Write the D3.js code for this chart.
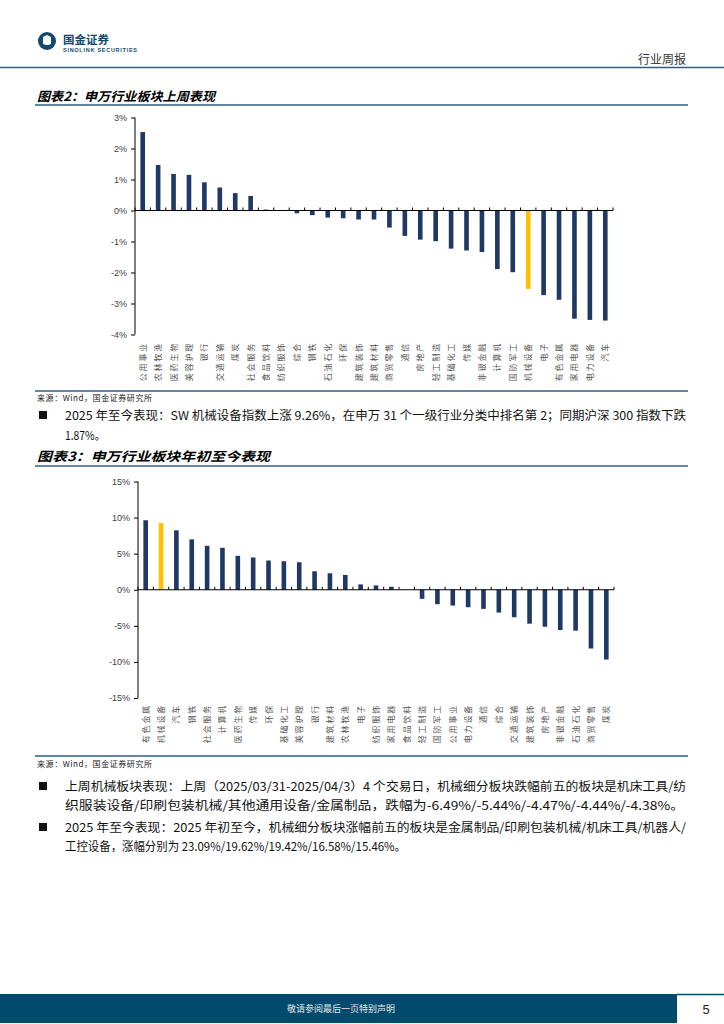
<!DOCTYPE html>
<html><head><meta charset="utf-8">
<script src="https://cdn.jsdelivr.net/npm/d3@7/dist/d3.min.js"></script>
<style>
html,body{margin:0;padding:0;background:#fff;}
svg{display:block;}
</style></head>
<body>
<svg id="page" width="724" height="1024"></svg>
<script>
// ---------- DATA ----------
const weekCategories = ["公用事业","农林牧渔","医药生物","美容护理","银行","交通运输","煤炭","社会服务","食品饮料","纺织服饰","综合","钢铁","石油石化","环保","建筑装饰","建筑材料","商贸零售","通信","房地产","轻工制造","基础化工","传媒","非银金融","计算机","国防军工","机械设备","电子","有色金属","家用电器","电力设备","汽车"];
const weekValues = [2.53,1.47,1.18,1.15,0.91,0.74,0.56,0.47,0.03,0.01,-0.09,-0.15,-0.23,-0.25,-0.29,-0.29,-0.55,-0.82,-0.94,-0.99,-1.23,-1.29,-1.34,-1.89,-1.99,-2.53,-2.73,-2.88,-3.49,-3.53,-3.55];
const weekTicks = [3,2,1,0,-1,-2,-3,-4];

const ytdCategories = ["有色金属","机械设备","汽车","钢铁","社会服务","计算机","医药生物","传媒","环保","基础化工","美容护理","银行","建筑材料","农林牧渔","电子","纺织服饰","家用电器","食品饮料","轻工制造","国防军工","公用事业","电力设备","通信","综合","交通运输","建筑装饰","房地产","非银金融","石油石化","商贸零售","煤炭"];
const ytdValues = [9.63,9.26,8.23,6.98,6.09,5.81,4.70,4.47,4.05,3.95,3.81,2.56,2.28,2.05,0.74,0.60,0.42,0.02,-1.26,-2.00,-2.19,-2.42,-2.65,-3.16,-3.81,-4.70,-5.12,-5.58,-5.67,-8.14,-9.67];
const ytdTicks = [15,10,5,0,-5,-10,-15];

const highlightCategory = "机械设备";

// ---------- PAGE ----------
const svg = d3.select("#page");
const CJK = "'Noto Sans CJK SC', 'Noto Sans', sans-serif";
const LAT = "'Liberation Sans', Arial, sans-serif";
const lineColor = "#2f5f82";

// header logo
const logo = svg.append("g");
logo.append("circle").attr("cx",47).attr("cy",41).attr("r",9).attr("fill","#124a6e");
logo.append("path").attr("d","M43,37 L47,35 L51,37 L51,44 Q47,46 43,44 Z").attr("fill","#fff");
logo.append("text").attr("x",63).attr("y",44).attr("font-family",CJK).attr("font-weight","bold")
  .attr("font-size",11.5).attr("fill","#124a6e").attr("textLength",46).text("国金证券");
logo.append("text").attr("x",63).attr("y",52).attr("font-family",LAT).attr("font-weight","bold")
  .attr("font-size",5.5).attr("fill","#124a6e").attr("textLength",74).text("SINOLINK SECURITIES");
svg.append("text").attr("x",686).attr("y",64).attr("text-anchor","end").attr("font-family",CJK)
  .attr("font-size",12).attr("fill","#333").text("行业周报");
svg.append("line").attr("x1",0).attr("x2",724).attr("y1",67.5).attr("y2",67.5).attr("stroke",lineColor).attr("stroke-width",1.5);

function title(y, txt, len){
  svg.append("text").attr("x",37).attr("y",y).attr("font-family",CJK).attr("font-weight","bold")
    .attr("font-style","italic").attr("font-size",12.5).attr("fill","#000")
    .attr("textLength",len).attr("lengthAdjust","spacingAndGlyphs").text(txt);
}
function hline(y){
  svg.append("line").attr("x1",35).attr("x2",688).attr("y1",y).attr("y2",y).attr("stroke",lineColor).attr("stroke-width",1.6);
}
function source(y){
  svg.append("text").attr("x",37).attr("y",y).attr("font-family",CJK).attr("font-size",8)
    .attr("fill","#222").attr("textLength",115).text("来源：Wind，国金证券研究所");
}
function para(y, txt, len){
  svg.append("text").attr("x",65).attr("y",y).attr("font-family",CJK).attr("font-size",12)
    .attr("fill","#111").attr("textLength",len).attr("lengthAdjust","spacingAndGlyphs").text(txt);
}
function bullet(y){
  svg.append("rect").attr("x",39).attr("y",y-9).attr("width",8).attr("height",8).attr("fill","#111");
}

title(101, "图表2：申万行业板块上周表现", 178);
hline(105);

// ---------- CHART helper ----------
function barChart(cfg){
  const g = svg.append("g");
  const x = d3.scaleBand().domain(cfg.cats).range([cfg.x0, cfg.x1]).paddingInner(0.7).paddingOuter(0.35);
  const y = d3.scaleLinear().domain([cfg.ticks[cfg.ticks.length-1], cfg.ticks[0]]).range([cfg.yBottom, cfg.yTop]);
  const step = (cfg.x1 - cfg.x0) / cfg.cats.length;
  // bars
  g.selectAll("rect.bar").data(cfg.cats.map((c,i)=>({c, v:cfg.vals[i]}))).enter().append("rect")
    .attr("x", d => x(d.c)).attr("width", x.bandwidth())
    .attr("y", d => y(Math.max(0,d.v))).attr("height", d => Math.abs(y(d.v)-y(0)))
    .attr("fill", d => d.c === highlightCategory ? "#ffc000" : "#203864");
  // y axis
  const yAxis = d3.axisLeft(y).tickValues(cfg.ticks).tickSize(4).tickPadding(4).tickFormat(d => d + "%");
  const ya = g.append("g").attr("transform", `translate(${cfg.x0},0)`).call(yAxis);
  ya.select(".domain").attr("stroke","#000").attr("d", `M0,${cfg.yTop}V${cfg.yBottom}`);
  ya.selectAll(".tick line").attr("stroke","#000");
  ya.selectAll(".tick text").attr("font-family",LAT).attr("font-size",9).attr("fill","#404040");
  // x axis at zero with category boundary ticks upward
  const xa = d3.axisTop(x).tickSize(0).tickFormat("");
  const xg = g.append("g").attr("transform", `translate(0,${y(0)})`).call(xa);
  xg.select(".domain").attr("stroke","#000").attr("d", `M${cfg.x0},0H${cfg.x1}`);
  g.selectAll("line.bt").data(d3.range(cfg.cats.length+1)).enter().append("line")
    .attr("x1", i => cfg.x0 + i*step).attr("x2", i => cfg.x0 + i*step)
    .attr("y1", y(0)-3).attr("y2", y(0)).attr("stroke","#000").attr("stroke-width",1);
  // category labels at bottom
  g.selectAll("text.cl").data(cfg.cats).enter().append("text")
    .attr("transform", d => `translate(${x(d)+x.bandwidth()/2+3},${cfg.labelY}) rotate(-90)`)
    .attr("text-anchor","end").attr("font-family",CJK).attr("font-size",8)
    .attr("letter-spacing",1.8).attr("fill","#555").text(d => d);
}

barChart({cats:weekCategories, vals:weekValues, ticks:weekTicks, x0:135, x1:613, yTop:117.5, yBottom:334.5, labelY:342});

hline(391);
source(401);
bullet(420);
para(420, "2025 年至今表现：SW 机械设备指数上涨 9.26%，在申万 31 个一级行业分类中排名第 2；同期沪深 300 指数下跌", 621);
para(440, "1.87%。", 40);

title(461, "图表3：申万行业板块年初至今表现", 233);
hline(466);

barChart({cats:ytdCategories, vals:ytdValues, ticks:ytdTicks, x0:138, x1:614, yTop:481.5, yBottom:698, labelY:704});

hline(756);
source(767);
bullet(791);
para(791, "上周机械板块表现：上周（2025/03/31-2025/04/3）4 个交易日，机械细分板块跌幅前五的板块是机床工具/纺", 621);
para(810, "织服装设备/印刷包装机械/其他通用设备/金属制品，跌幅为-6.49%/-5.44%/-4.47%/-4.44%/-4.38%。", 619);
bullet(832);
para(832, "2025 年至今表现：2025 年初至今，机械细分板块涨幅前五的板块是金属制品/印刷包装机械/机床工具/机器人/", 621);
para(851, "工控设备，涨幅分别为 23.09%/19.62%/19.42%/16.58%/15.46%。", 341);

// footer
svg.append("rect").attr("x",0).attr("y",994).attr("width",677).attr("height",29).attr("fill","#004a6e");
svg.append("line").attr("x1",677).attr("x2",724).attr("y1",994.5).attr("y2",994.5).attr("stroke","#004a6e").attr("stroke-width",1.5);
svg.append("text").attr("x",341).attr("y",1012).attr("text-anchor","middle").attr("font-family",CJK)
  .attr("font-size",9).attr("fill","#e6e6e6").text("敬请参阅最后一页特别声明");
svg.append("text").attr("x",706).attr("y",1014).attr("text-anchor","middle").attr("font-family",LAT)
  .attr("font-size",13).attr("fill","#222").text("5");
</script>
</body></html>
